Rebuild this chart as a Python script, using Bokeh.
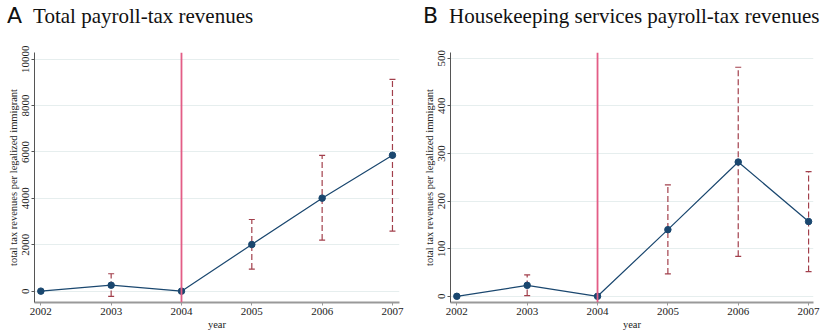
from bokeh.plotting import figure
from bokeh.models import Span, Div, FixedTicker, Range1d, ColumnDataSource
from bokeh.layouts import row, column
from bokeh.embed import file_html
from bokeh.resources import INLINE

# ---- data ----
years = [2002, 2003, 2004, 2005, 2006, 2007]
ci_years = [2003, 2005, 2006, 2007]
reform_year = 2004

total_est = [0, 255, 0, 2010, 4010, 5860]
total_lo = [-230, 950, 2200, 2590]
total_hi = [750, 3090, 5850, 9130]

house_est = [0, 23, 0, 140, 282, 157]
house_lo = [1.5, 47, 84, 52]
house_hi = [45, 234, 481, 262]

total_ticks = [0, 2000, 4000, 6000, 8000, 10000]
house_ticks = [0, 100, 200, 300, 400, 500]

title_a = ("A", "Total payroll-tax revenues")
title_b = ("B", "Housekeeping services payroll-tax revenues")
y_label = "total tax revenues per legalized immigrant"
x_label = "year"

NAVY = "#1a476f"
MAROON = "#a23f4b"
PINK = "#e35d86"
SERIF = "Liberation Serif"


def make_panel(est, lo, hi, yr, yticks, xr, frame_w, left, right):
    p = figure(frame_width=frame_w, frame_height=250,
               x_range=Range1d(*xr), y_range=Range1d(*yr),
               output_backend="svg", toolbar_location=None,
               min_border_left=left, min_border_right=right,
               min_border_top=22, min_border_bottom=0)
    p.outline_line_color = None
    p.background_fill_color = "white"
    p.border_fill_color = "white"
    p.xgrid.visible = False
    p.ygrid.grid_line_color = "#e6eeee"
    p.ygrid.grid_line_width = 1
    p.xaxis.ticker = FixedTicker(ticks=years)
    p.yaxis.ticker = FixedTicker(ticks=yticks)
    p.xaxis.minor_tick_line_color = None
    p.yaxis.minor_tick_line_color = None
    for ax in (p.xaxis, p.yaxis):
        ax.major_tick_in = 0
        ax.major_tick_out = 3
        ax.major_label_text_font = SERIF
        ax.major_label_text_font_size = "11px"
        ax.major_label_text_color = "#222222"
        ax.axis_label_text_font = SERIF
        ax.axis_label_text_font_size = "10.5px"
        ax.axis_label_text_font_style = "normal"
        ax.axis_label_text_color = "#222222"
        ax.major_label_standoff = 2
        ax.axis_label_standoff = 1
    p.xaxis.axis_label = x_label
    p.yaxis.axis_label = y_label
    p.yaxis.major_label_orientation = "vertical"
    p.xaxis.axis_line_color = "#999999"
    p.xaxis.axis_line_width = 2
    p.xaxis.major_tick_line_color = "#999999"
    p.yaxis.axis_line_color = "#555555"
    p.yaxis.major_tick_line_color = "#555555"

    p.add_layout(Span(location=reform_year, dimension="height",
                      line_color=PINK, line_width=1.8))

    ci = ColumnDataSource(dict(x=ci_years, lo=lo, hi=hi))
    p.segment(x0="x", y0="lo", x1="x", y1="hi", source=ci,
              line_color=MAROON, line_width=1.2, line_dash="6 3")
    p.scatter(x="x", y="lo", source=ci, marker="dash", size=6,
              line_color=MAROON, line_width=1.2)
    p.scatter(x="x", y="hi", source=ci, marker="dash", size=6,
              line_color=MAROON, line_width=1.2)

    pts = ColumnDataSource(dict(x=years, y=est))
    p.line(x="x", y="y", source=pts, line_color=NAVY, line_width=1.2)
    p.scatter(x="x", y="y", source=pts, marker="circle", size=6.5,
              fill_color=NAVY, line_color=NAVY)
    return p


def make_title(letter, text, width, pad):
    html = ('<div style="line-height:26px;white-space:nowrap;padding-left:%dpx;'
            'padding-top:3px;color:#111">'
            '<span style="font-family:\'DejaVu Sans\';font-size:22px">%s</span>'
            '<span style="font-family:\'Liberation Serif\';font-size:21px;margin-left:11px">%s</span>'
            '</div>') % (pad, letter, text)
    return Div(text=html, width=width, height=30, margin=0)


pa = make_panel(total_est, total_lo, total_hi, (-490, 10290), total_ticks,
                (2001.91, 2007.10), 365, 34, 11)
pb = make_panel(house_est, house_lo, house_hi, (-13, 512), house_ticks,
                (2001.91, 2007.07), 363, 40, 7)

ta = make_title(*title_a, 410, 7)
tb = make_title(*title_b, 410, 13)

layout = row(column(ta, pa, spacing=0), column(tb, pb, spacing=0), spacing=0)

open("out.html", "w").write(file_html(layout, INLINE))
